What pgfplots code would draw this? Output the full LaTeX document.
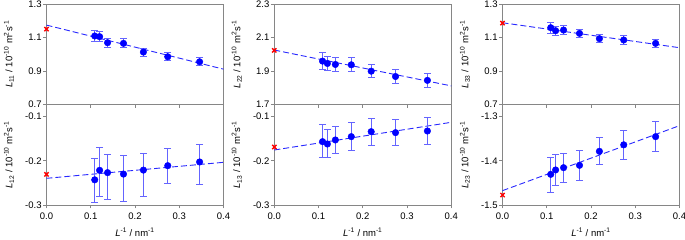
\documentclass[border=0pt]{standalone}
\usepackage{fontspec}
\setmainfont{Liberation Sans}
\usepackage{pgfplots}
\pgfplotsset{compat=1.18}
\definecolor{axgray}{RGB}{134,134,134}
\definecolor{ptblue}{RGB}{0,0,255}
\definecolor{errblue}{RGB}{100,100,255}
\definecolor{fitblue}{RGB}{40,40,255}
\definecolor{xred}{RGB}{255,0,0}
\begin{document}
\begin{tikzpicture}[font=\fontsize{9.5}{11}\selectfont]
\pgfplotsset{
  base/.style={scale only axis, width=177pt, height=100.5pt, xmin=0, xmax=0.4, clip=false,
    unbounded coords=jump,
    axis line style={draw=axgray, line width=0.8pt},
    tick style={draw=axgray, line width=0.8pt},
    tick align=outside, major tick length=3.5pt, ytick pos=left, xtick pos=bottom,
    tick label style={font=\fontsize{9.5}{11}\selectfont},
    label style={font=\fontsize{9.5}{11}\selectfont},
    yticklabel style={inner xsep=1.2pt},
    ylabel style={at={([xshift=-37.5pt]axis description cs:0,0.5)}, anchor=center},
    xlabel style={at={([yshift=-27.5pt]axis description cs:0.5,0)}, anchor=center},
  },
  toprow/.style={base, anchor=south west, xtick={0.1,0.2,0.3}, xticklabels={}, ymin=0.7, ymax=1.3,
    ytick={0.7,0.9,1.1,1.3}},
  botrow/.style={base, anchor=south west, xtick={0,0.1,0.2,0.3,0.4},
    xticklabels={0.0,0.1,0.2,0.3,0.4}, xticklabel style={yshift=-1pt},
    xlabel={\textit{L}\textsuperscript{-1} / nm\textsuperscript{-1}}},
  pts/.style={only marks, mark=*, mark size=3.3pt, color=ptblue},
  bars/.style={draw=errblue, color=errblue, line width=1.2pt, mark=-, mark size=3.5pt,
    mark options={solid, draw=errblue, line width=1pt}},
  fit/.style={color=fitblue, line width=0.9pt, dash pattern=on 6pt off 3pt},
  ref/.style={only marks, mark=x, mark size=3pt, color=xred, line width=1.4pt},
}
% ---------- L11 ----------
\begin{axis}[toprow, at={(46.5pt,135.5pt)},
  yticklabels={0.7,0.9,1.1,1.3},
  ylabel={\textit{L}\textsubscript{11} / 10\textsuperscript{-10} m\textsuperscript{2}s\textsuperscript{-1}}]
\addplot[fit] coordinates {(0,1.174) (0.4,0.911)};
\addplot[bars] table {
x y
0.109 1.079
0.109 1.139
0.109 nan
0.120 1.077
0.120 1.133
0.120 nan
0.138 1.043
0.138 1.095
0.138 nan
0.174 1.038
0.174 1.092
0.174 nan
0.219 0.989
0.219 1.037
0.219 nan
0.274 0.960
0.274 1.010
0.274 nan
0.346 0.931
0.346 0.979
};
\addplot[pts] table {
x y
0.109 1.109
0.120 1.105
0.138 1.069
0.174 1.065
0.219 1.013
0.274 0.985
0.346 0.955
};
\addplot[ref] coordinates {(0,1.150)};
\end{axis}
% ---------- L12 ----------
\begin{axis}[botrow, at={(46.5pt,35pt)}, ymin=-0.3, ymax=-0.0725,
  ytick={-0.3,-0.2,-0.1}, yticklabels={-0.3,-0.2,-0.1},
  ylabel={\textit{L}\textsubscript{12} / 10\textsuperscript{-10} m\textsuperscript{2}s\textsuperscript{-1}}]
\addplot[fit] coordinates {(0,-0.2396) (0.4,-0.2034)};
\addplot[bars] table {
x y
0.109 -0.2940
0.109 -0.1943
0.109 nan
0.120 -0.2800
0.120 -0.1700
0.120 nan
0.138 -0.2880
0.138 -0.1860
0.138 nan
0.174 -0.2910
0.174 -0.1890
0.174 nan
0.219 -0.2800
0.219 -0.1830
0.219 nan
0.274 -0.2517
0.274 -0.1717
0.274 nan
0.346 -0.2530
0.346 -0.1626
};
\addplot[pts] table {
x y
0.109 -0.2430
0.120 -0.2215
0.138 -0.2268
0.174 -0.2300
0.219 -0.2210
0.274 -0.2110
0.346 -0.2026
};
\addplot[ref] coordinates {(0,-0.2306)};
\end{axis}
% ---------- L22 ----------
\begin{axis}[toprow, at={(274.3pt,135.5pt)}, ymin=1.7, ymax=2.3,
  ytick={1.7,1.9,2.1,2.3}, yticklabels={1.7,1.9,2.1,2.3},
  ylabel={\textit{L}\textsubscript{22} / 10\textsuperscript{-10} m\textsuperscript{2}s\textsuperscript{-1}}]
\addplot[fit] coordinates {(0,2.025) (0.4,1.811)};
\addplot[bars] table {
x y
0.109 1.906
0.109 2.012
0.109 nan
0.120 1.902
0.120 1.988
0.120 nan
0.138 1.897
0.138 1.981
0.138 nan
0.174 1.895
0.174 1.979
0.174 nan
0.219 1.859
0.219 1.939
0.219 nan
0.274 1.827
0.274 1.907
0.274 nan
0.346 1.804
0.346 1.884
};
\addplot[pts] table {
x y
0.109 1.959
0.120 1.945
0.138 1.939
0.174 1.937
0.219 1.899
0.274 1.867
0.346 1.844
};
\addplot[ref] coordinates {(0,2.023)};
\end{axis}
% ---------- L13 ----------
\begin{axis}[botrow, at={(274.3pt,35pt)}, ymin=-0.3, ymax=-0.0725,
  ytick={-0.3,-0.2,-0.1}, yticklabels={-0.3,-0.2,-0.1},
  ylabel={\textit{L}\textsubscript{13} / 10\textsuperscript{-10} m\textsuperscript{2}s\textsuperscript{-1}}]
\addplot[fit] coordinates {(0,-0.1755) (0.4,-0.1128)};
\addplot[bars] table {
x y
0.109 -0.1928
0.109 -0.1189
0.109 nan
0.120 -0.1928
0.120 -0.1302
0.120 nan
0.138 -0.1845
0.138 -0.1226
0.138 nan
0.174 -0.1762
0.174 -0.1128
0.174 nan
0.219 -0.1642
0.219 -0.1038
0.219 nan
0.274 -0.1664
0.274 -0.1060
0.274 nan
0.346 -0.1626
0.346 -0.1023
};
\addplot[pts] table {
x y
0.109 -0.1566
0.120 -0.1619
0.138 -0.1528
0.174 -0.1453
0.219 -0.1340
0.274 -0.1362
0.346 -0.1325
};
\addplot[ref] coordinates {(0,-0.1687)};
\end{axis}
% ---------- L33 ----------
\begin{axis}[toprow, at={(502.5pt,135.5pt)},
  yticklabels={0.7,0.9,1.1,1.3},
  ylabel={\textit{L}\textsubscript{33} / 10\textsuperscript{-10} m\textsuperscript{2}s\textsuperscript{-1}}]
\addplot[fit] coordinates {(0,1.188) (0.4,1.039)};
\addplot[bars] table {
x y
0.109 1.1255
0.109 1.1915
0.109 nan
0.120 1.1125
0.120 1.1685
0.120 nan
0.138 1.1165
0.138 1.1725
0.138 nan
0.174 1.0986
0.174 1.1506
0.174 nan
0.219 1.0690
0.219 1.1170
0.219 nan
0.274 1.0590
0.274 1.1110
0.274 nan
0.346 1.0390
0.346 1.0910
};
\addplot[pts] table {
x y
0.109 1.1585
0.120 1.1405
0.138 1.1445
0.174 1.1246
0.219 1.0930
0.274 1.0850
0.346 1.0650
};
\addplot[ref] coordinates {(0,1.1864)};
\end{axis}
% ---------- L23 ----------
\begin{axis}[botrow, at={(502.5pt,35pt)}, ymin=-1.5, ymax=-1.2725,
  ytick={-1.5,-1.4,-1.3}, yticklabels={-1.5,-1.4,-1.3},
  ylabel={\textit{L}\textsubscript{23} / 10\textsuperscript{-10} m\textsuperscript{2}s\textsuperscript{-1}}]
\addplot[fit] coordinates {(0,-1.4675) (0.4,-1.3204)};
\addplot[bars] table {
x y
0.109 -1.4713
0.109 -1.3921
0.109 nan
0.120 -1.4555
0.120 -1.3868
0.120 nan
0.138 -1.4487
0.138 -1.3838
0.138 nan
0.174 -1.4449
0.174 -1.3762
0.174 nan
0.219 -1.4094
0.219 -1.3475
0.219 nan
0.274 -1.3974
0.274 -1.3309
0.274 nan
0.346 -1.3785
0.346 -1.3121
};
\addplot[pts] table {
x y
0.109 -1.4306
0.120 -1.4207
0.138 -1.4155
0.174 -1.4102
0.219 -1.3785
0.274 -1.3638
0.346 -1.3453
};
\addplot[ref] coordinates {(0,-1.4774)};
\end{axis}
\pgfresetboundingbox
\path[use as bounding box] (0,0) rectangle (685pt,240pt);
\end{tikzpicture}
\end{document}
